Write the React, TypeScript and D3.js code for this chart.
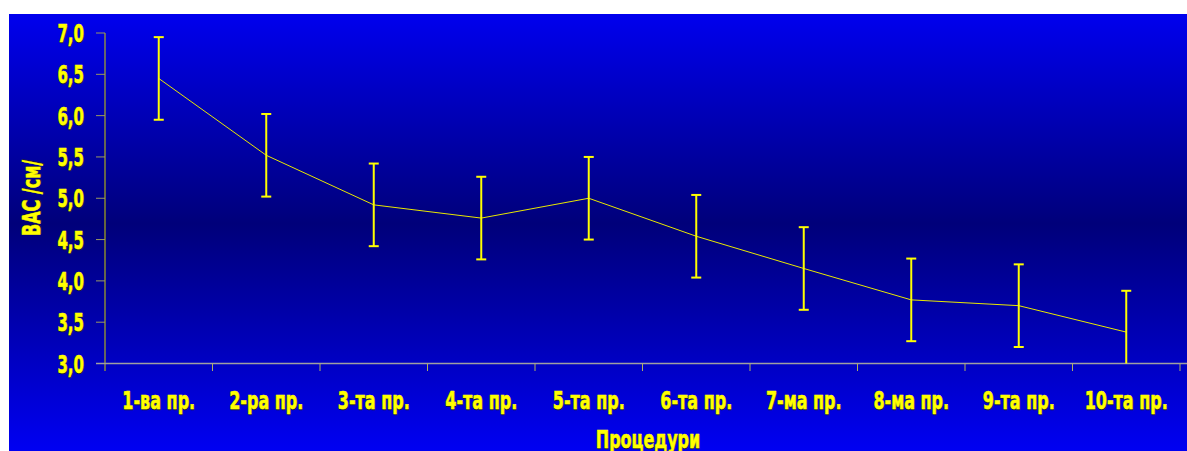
import React from "react";
import * as d3 from "d3";

const categories = ["1-ва пр.", "2-ра пр.", "3-та пр.", "4-та пр.", "5-та пр.", "6-та пр.", "7-ма пр.", "8-ма пр.", "9-та пр.", "10-та пр."];
const values = [6.45, 5.52, 4.92, 4.76, 5.0, 4.54, 4.15, 3.77, 3.7, 3.38];
const errors = [0.5, 0.5, 0.5, 0.5, 0.5, 0.5, 0.5, 0.5, 0.5, 0.5];
const yTicks = [3.0, 3.5, 4.0, 4.5, 5.0, 5.5, 6.0, 6.5, 7.0];
const yTitle = "BAC /см/";
const xTitle = "Процедури";

const W = 1187;
const H = 451;
const FONT = "'DejaVu Sans', sans-serif";
const YELLOW = "#FFFF00";
const SHADOW = "#20202a";

function ShadowText(props: any) {
  const { x, y, children, sx = 0.75, rot = 0, ...rest } = props;
  return (
    <g transform={`translate(${x},${y}) rotate(${rot}) scale(${sx},1)`}>
      <text x={1.2} y={1} fill={SHADOW} stroke={SHADOW} strokeWidth={0.6} fontFamily={FONT} fontWeight="bold" {...rest}>{children}</text>
      <text x={0} y={0} fill={YELLOW} stroke={YELLOW} strokeWidth={0.6} fontFamily={FONT} fontWeight="bold" {...rest}>{children}</text>
    </g>
  );
}

export default function App() {
  const x = d3.scaleBand<string>().domain(categories).range([105, 1180]);
  const y = d3.scaleLinear().domain([3, 7]).range([363.5, 33]);
  const cx = (c: string) => (x(c) as number) + x.bandwidth() / 2;
  const line = d3.line<number>().x((_, i) => cx(categories[i])).y((d) => y(d));
  const fmt = (v: number) => d3.format(".1f")(v).replace(".", ",");

  return (
    <svg width={W} height={H} style={{ position: "absolute", left: 0, top: 0 }}>
      <defs>
        <linearGradient id="bg" x1="0" y1="0" x2="0" y2="1">
          <stop offset="0" stopColor="#0000EE" />
          <stop offset="0.48" stopColor="#00007A" />
          <stop offset="1" stopColor="#0000F2" />
        </linearGradient>
      </defs>
      <rect x={9} y={14} width={W - 9} height={H - 14} fill="url(#bg)" />

      {/* y axis */}
      <line x1={105} x2={105} y1={y(7)} y2={371} stroke="#CCCC00" strokeWidth={1} />
      {yTicks.map((t) => (
        <g key={t}>
          <line x1={96} x2={105} y1={y(t)} y2={y(t)} stroke="#9a9a60" strokeWidth={1} />
          <ShadowText x={84} y={y(t) + 9} sx={0.6} textAnchor="end" fontSize={25}>
            {fmt(t)}
          </ShadowText>
        </g>
      ))}

      {/* x axis */}
      <line x1={96} x2={W} y1={y(3)} y2={y(3)} stroke="#A0A0A0" strokeWidth={1.5} />
      {categories.map((c, i) => (
        <line key={"t" + i} x1={(x(c) as number) + x.bandwidth()} x2={(x(c) as number) + x.bandwidth()} y1={y(3)} y2={371} stroke="#B0B060" strokeWidth={1} />
      ))}
      {categories.map((c) => (
        <ShadowText key={c} x={cx(c)} y={409} sx={0.64} textAnchor="middle" fontSize={25}>
          {c}
        </ShadowText>
      ))}

      {/* line */}
      <path d={line(values) || ""} fill="none" stroke="#E8E800" strokeWidth={1} />

      {/* error bars */}
      {values.map((v, i) => {
        const px = cx(categories[i]);
        const top = y(v + errors[i]);
        const bot = y(Math.max(3, v - errors[i]));
        return (
          <g key={"e" + i} stroke={YELLOW} strokeWidth={2}>
            <line x1={px} x2={px} y1={top} y2={bot} />
            <line x1={px - 5} x2={px + 5} y1={top} y2={top} />
            {v - errors[i] >= 3 && <line x1={px - 5} x2={px + 5} y1={bot} y2={bot} />}
          </g>
        );
      })}

      {/* titles */}
      <ShadowText x={648} y={448} sx={0.64} textAnchor="middle" fontSize={25}>
        {xTitle}
      </ShadowText>
      <ShadowText x={40} y={198} rot={-90} sx={0.64} textAnchor="middle" fontSize={25}>
        {yTitle}
      </ShadowText>
    </svg>
  );
}
